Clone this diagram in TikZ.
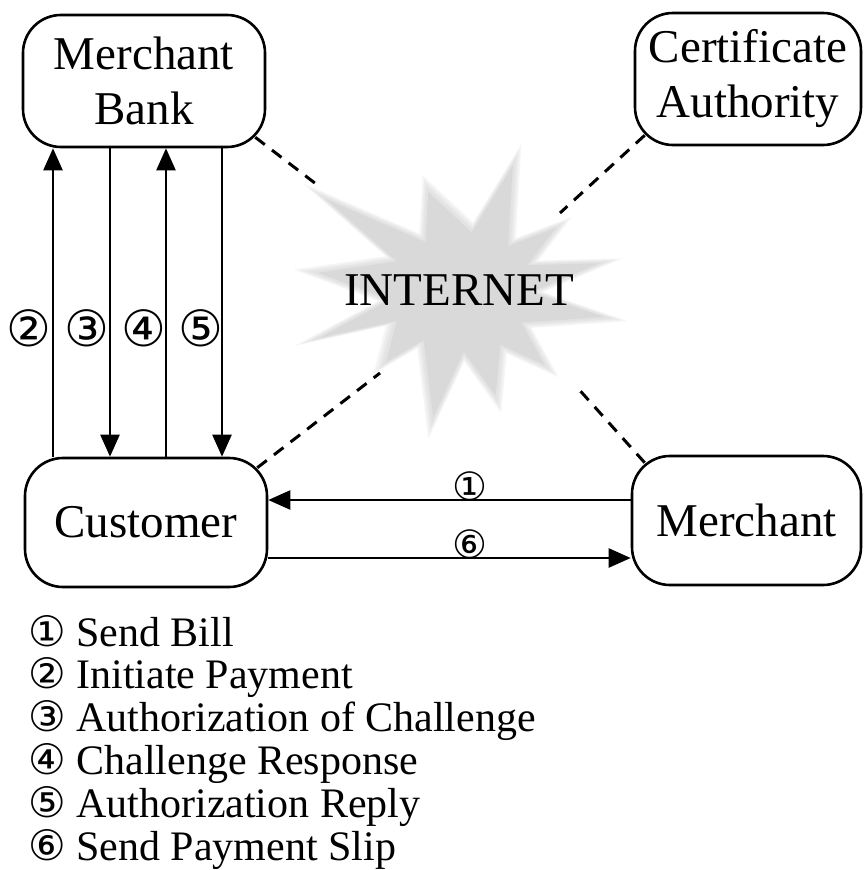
\documentclass[tikz,border=0pt]{standalone}
\usepackage{fontspec}
\setmainfont{Liberation Serif}
\newfontfamily\circfont{DejaVu Sans}
\usetikzlibrary{arrows.meta,calc}

% outline of the grey burst, relative to its centre
\newcommand\burstpath{(53,-132) -- (48,-48) -- (98,-67) -- (68,-28) -- (143,-30) -- (72,0)
  -- (148,26) -- (62,32) -- (86,76) -- (40,55) -- (35,108) -- (2,62) -- (-30,131)
  -- (-40,50) -- (-79,73) -- (-68,30) -- (-149,48) -- (-75,8) -- (-150,-20)
  -- (-68,-32) -- (-142,-97) -- (-38,-52) -- (-35,-104) -- (10,-62) -- cycle}
\newcommand\cnum[1]{{\circfont\fontsize{42}{42}\selectfont #1}}

\begin{document}
\begin{tikzpicture}[x=1pt,y=-1pt,
  box/.style={draw, line width=2.6pt, rounded corners=38pt, inner sep=0pt,
    align=center, font=\fontsize{47}{55}\selectfont},
  flow/.style={line width=2.4pt, -{Triangle[length=22pt,width=19pt]}},
  net/.style={line width=3pt, dash pattern=on 12pt off 9pt},
  num/.style={font=\circfont\fontsize{50}{50}\selectfont, inner sep=0pt},
  hnum/.style={font=\circfont\fontsize{39}{39}\selectfont, inner sep=0pt, anchor=south},
  legend/.style={anchor=base west, inner sep=0pt, font=\fontsize{42}{44}\selectfont}]
\useasboundingbox (0,0) rectangle (863,870);
\fill[white] (0,0) rectangle (863,870);

% soft grey burst behind the INTERNET label
\foreach \s in {1.12,1.08,1.04,1.01}
  \fill[gray!30, opacity=0.25, shift={(462,292)}, scale=\s] \burstpath;
\fill[gray!30, shift={(462,292)}, scale=0.96] \burstpath;
\node[font=\fontsize{47}{55}\selectfont, inner sep=0pt] (net) at (459,290) {INTERNET};

% parties
\node[box, minimum width=242pt, minimum height=132pt] (bank) at (144,81) {Merchant\\Bank};
\node[box, minimum width=226pt, minimum height=132pt] (ca) at (748,79) {Certificate\\Authority};
\node[box, minimum width=242pt, minimum height=129pt] (cust) at (146,522.5) {Customer};
\node[box, minimum width=229pt, minimum height=129pt] (merch) at (746.5,520.5) {Merchant};

% dashed links into the internet
\coordinate (n1) at (320,187);
\coordinate (n2) at (560,213);
\coordinate (n3) at (380,373);
\coordinate (n4) at (575,385);
\draw[net] ([shift={(-11,-11)}]bank.south east) -- (n1);
\draw[net] ([shift={(11,-11)}]ca.south west) -- (n2);
\draw[net] ([shift={(-11,11)}]cust.north east) -- (n3);
\draw[net] ([shift={(14,8)}]merch.north west) -- (n4);

% customer <-> merchant bank
\coordinate (c2) at (53,0);
\coordinate (c3) at (110,0);
\coordinate (c4) at (166,0);
\coordinate (c5) at (222,0);
\draw[flow] (cust.north -| c2) -- (bank.south -| c2);
\draw[flow] (bank.south -| c3) -- (cust.north -| c3);
\draw[flow] (cust.north -| c4) -- (bank.south -| c4);
\draw[flow] (bank.south -| c5) -- (cust.north -| c5);
\node[num] (k2) at (29,328) {②};
\node[num] (k3) at (87,328) {③};
\node[num] (k4) at (144,328) {④};
\node[num] (k5) at (201,328) {⑤};

% customer <-> merchant
\coordinate (r1) at (0,500);
\coordinate (r6) at (0,558);
\draw[flow] (merch.west |- r1) -- (cust.east |- r1);
\draw[flow] (cust.east |- r6) -- (merch.west |- r6);
\node[hnum] (k1) at (470,501) {①};
\node[hnum] (k6) at (470,559) {⑥};

% key
\node[legend] (l1) at (28,646) {\cnum{①} Send Bill};
\node[legend] (l2) at (28,688.8) {\cnum{②} Initiate Payment};
\node[legend] (l3) at (28,731.6) {\cnum{③} Authorization of Challenge};
\node[legend] (l4) at (28,774.4) {\cnum{④} Challenge Response};
\node[legend] (l5) at (28,817.2) {\cnum{⑤} Authorization Reply};
\node[legend] (l6) at (28,860) {\cnum{⑥} Send Payment Slip};
\end{tikzpicture}
\end{document}
